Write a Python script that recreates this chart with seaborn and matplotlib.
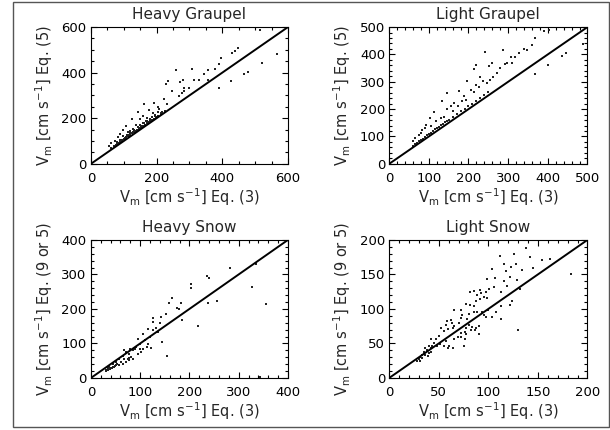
import numpy as np
import pandas as pd
import matplotlib
matplotlib.use("Agg")
import matplotlib.pyplot as plt
from matplotlib.patches import Rectangle
from matplotlib.ticker import MultipleLocator
import seaborn as sns

# ── DATA ────────────────────────────────────────────────────
hg_x = [515, 449, 438, 429, 397, 567, 520, 391, 377, 477, 465, 426, 391, 259, 308,
        356, 344, 356, 328, 315, 279, 272, 236, 229, 247, 285, 298, 285, 277, 267,
        192, 223, 233, 203, 162, 178, 144, 208, 215, 190, 159, 125, 171, 179, 195,
        151, 169, 163, 138, 108, 97, 144, 182, 154, 128, 118, 113, 90, 97, 82,
        72, 62, 56,
        62, 70, 75, 80, 85, 88, 92, 95, 100, 104, 108, 112, 115, 120, 124, 128,
        132, 136, 140, 145, 150, 155, 160, 165, 170, 175, 180, 186, 192, 198, 205,
        212, 218, 225, 80, 90, 110, 118, 130, 142, 150, 160, 170, 185, 195, 205]
hg_y = [588, 510, 494, 488, 463, 484, 443, 437, 418, 405, 395, 363, 331, 411, 418,
        411, 392, 370, 368, 370, 370, 359, 362, 349, 320, 334, 334, 320, 309, 298,
        266, 283, 263, 251, 261, 237, 228, 240, 222, 225, 211, 196, 200, 196, 208,
        196, 187, 179, 170, 167, 147, 163, 190, 167, 153, 145, 138, 131, 123, 116,
        102, 90, 77,
        68, 78, 82, 88, 92, 96, 100, 106, 108, 112, 118, 120, 126, 128, 134, 138,
        140, 146, 148, 152, 158, 162, 168, 172, 178, 182, 188, 194, 198, 206, 212,
        220, 226, 232, 96, 104, 128, 136, 150, 160, 170, 180, 190, 205, 215, 228]

lg_x = [391, 404, 367, 490, 361, 340, 348, 327, 287, 241, 318, 307, 447, 437, 297,
        310, 293, 259, 220, 213, 280, 271, 253, 400, 367, 263, 254, 246, 237, 228,
        196, 227, 218, 207, 214, 177, 188, 194, 147, 134, 156, 164, 173, 184, 113,
        147, 160, 139, 130, 102, 117, 92, 105, 83, 74, 66, 60, 79, 90,
        60, 65, 70, 75, 80, 85, 90, 95, 100, 105, 110, 115, 120, 125, 130, 135,
        140, 145, 150, 160, 170, 180, 190, 200, 210, 220, 230, 240, 250]
lg_y = [485, 490, 461, 439, 433, 421, 418, 407, 418, 409, 391, 389, 406, 393, 369,
        369, 364, 369, 361, 345, 349, 333, 357, 361, 330, 319, 306, 297, 304, 319,
        303, 282, 288, 270, 264, 266, 248, 234, 260, 228, 210, 222, 212, 228, 191,
        199, 195, 173, 167, 167, 155, 143, 137, 125, 106, 94, 82, 112, 131,
        66, 72, 76, 82, 88, 92, 98, 104, 110, 114, 120, 126, 130, 136, 142, 146,
        152, 158, 162, 172, 182, 192, 202, 210, 220, 228, 240, 250, 262]

hs_x = [336, 283, 235, 240, 203, 203, 327, 257, 237, 356, 164, 158, 182, 174, 179,
        184, 218, 153, 143, 126, 127, 140, 133, 115, 106, 95, 126, 136, 119, 109,
        99, 116, 145, 123, 155, 344, 92, 85, 78, 65, 72, 58, 61, 51, 44, 37, 34, 31,
        77, 82, 75, 85, 95, 102, 106, 113, 99, 89, 79, 68, 65, 72, 58, 78, 68,
        30, 32, 34, 36, 38, 40, 42, 35, 44, 46, 48, 50, 52]
hs_y = [330, 320, 296, 291, 272, 261, 264, 222, 216, 213, 233, 218, 217, 202, 200,
        169, 150, 186, 177, 174, 162, 159, 146, 143, 128, 114, 138, 133, 118, 109,
        99, 99, 104, 87, 65, 4, 89, 80, 70, 65, 75, 55, 46, 46, 41, 31, 26, 23,
        58, 60, 55, 55, 70, 75, 84, 89, 84, 84, 84, 80, 41, 46, 39, 51, 55,
        20, 22, 24, 25, 27, 28, 30, 28, 32, 33, 36, 38, 40]

ls_x = [138, 126, 112, 142, 154, 162, 116, 123, 128, 134, 145, 104, 183, 118, 122,
        107, 99, 116, 129, 119, 106, 101, 82, 86, 92, 98, 113, 93, 89, 96, 99, 132,
        124, 122, 92, 88, 82, 77, 86, 113, 108, 100, 96, 104, 113, 98, 65, 72, 73,
        81, 86, 89, 94, 79, 72, 62, 58, 63, 70, 52, 57, 59, 64, 81, 84, 88, 91, 87,
        83, 78, 76, 77, 91, 72, 69, 65, 72, 76, 65, 55, 50, 47, 42, 45, 40, 36, 57,
        60, 64, 59, 55, 75, 130, 38, 35, 33, 31, 30, 28, 40, 42, 36, 33, 31, 39, 42,
        48, 43, 51]
ls_y = [188, 180, 177, 175, 171, 173, 165, 161, 165, 157, 159, 158, 151, 155, 147,
        145, 143, 140, 142, 133, 132, 129, 125, 126, 127, 125, 125, 123, 120, 118,
        116, 129, 111, 106, 114, 111, 106, 107, 104, 105, 96, 99, 91, 89, 86, 88, 98,
        98, 91, 93, 96, 95, 96, 86, 87, 84, 82, 80, 79, 72, 77, 71, 73, 77, 74, 73,
        75, 70, 69, 72, 67, 64, 63, 65, 60, 57, 60, 57, 75, 68, 61, 56, 57, 50, 46,
        43, 54, 46, 43, 43, 46, 46, 69, 41, 37, 33, 31, 27, 24, 36, 38, 33, 29, 25,
        32, 43, 46, 46, 49]

titles = ["Heavy Graupel", "Light Graupel", "Heavy Snow", "Light Snow"]
ylabels = ["V$_m$ [cm s$^{-1}$] Eq. (5)", "V$_m$ [cm s$^{-1}$] Eq. (5)",
           "V$_m$ [cm s$^{-1}$] Eq. (9 or 5)", "V$_m$ [cm s$^{-1}$] Eq. (9 or 5)"]
xlabel = "V$_m$ [cm s$^{-1}$] Eq. (3)"
limits = [600, 500, 400, 200]
majors = [200, 100, 100, 50]
minors = [50, 20, 20, 10]

panels = [(hg_x, hg_y), (lg_x, lg_y), (hs_x, hs_y), (ls_x, ls_y)]

# ── STYLE ────────────────────────────────────────────────────
sns.set_style("ticks")
plt.rcParams["font.family"] = ["DejaVu Sans"]
plt.rcParams["mathtext.default"] = "regular"

fig = plt.figure(figsize=(6.1, 4.3), dpi=100)

positions = [
    [0.149, 0.619, 0.323, 0.318],
    [0.638, 0.619, 0.325, 0.318],
    [0.149, 0.121, 0.323, 0.321],
    [0.638, 0.121, 0.325, 0.321],
]

for i, (xs, ys) in enumerate(panels):
    ax = fig.add_axes(positions[i])
    df = pd.DataFrame({"x": xs, "y": ys})
    sns.scatterplot(data=df, x="x", y="y", ax=ax, s=1.6, marker="s",
                    color="#222222", linewidth=0)
    ax.axline((0, 0), slope=1, color="black", linewidth=1.4)

    lim = limits[i]
    ax.set_xlim(0, lim)
    ax.set_ylim(0, lim)
    ax.xaxis.set_major_locator(MultipleLocator(majors[i]))
    ax.yaxis.set_major_locator(MultipleLocator(majors[i]))
    ax.xaxis.set_minor_locator(MultipleLocator(minors[i]))
    ax.yaxis.set_minor_locator(MultipleLocator(minors[i]))
    ax.tick_params(which="both", direction="in", top=True, right=True,
                   colors="black", width=0.8)
    ax.tick_params(which="major", length=4, labelsize=9.5)
    ax.tick_params(which="minor", length=2)
    ax.tick_params(axis="x", which="major", pad=6)
    ax.tick_params(axis="y", which="major", pad=3)
    for sp in ax.spines.values():
        sp.set_visible(True)
        sp.set_linewidth(0.8)
        sp.set_color("black")

    ax.set_title(titles[i], fontsize=11, pad=6)
    ax.set_xlabel(xlabel, fontsize=10.5, labelpad=1)
    ax.set_ylabel(ylabels[i], fontsize=10.5, labelpad=5)

# grey frame round the whole picture
fig.add_artist(Rectangle((0.021, 0.007), 0.977, 0.988, transform=fig.transFigure,
                         fill=False, edgecolor="#555555", linewidth=1))

plt.savefig("out.png", dpi=100)
